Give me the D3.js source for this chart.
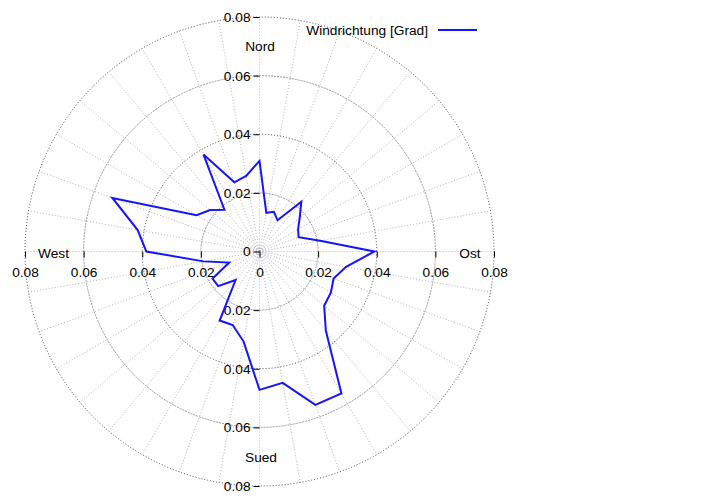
<!DOCTYPE html>
<html>
<head>
<meta charset="utf-8">
<script src="https://cdn.jsdelivr.net/npm/d3@7"></script>
<style>
  body { margin: 0; background: #fff; }
  svg text { font-family: "Liberation Sans", Arial, sans-serif; font-size: 13.7px; fill: #000; }
</style>
</head>
<body>
<div id="chart"></div>
<script>
// wind direction in degrees (compass, clockwise from north)
const directions = [0, 10, 20, 30, 40, 50, 60, 70, 80, 90, 100, 110, 120, 130, 140, 150, 160, 170,
                    180, 190, 200, 210, 220, 230, 240, 250, 260, 270, 280, 290, 300, 310, 320, 330, 340, 350];
// relative frequency per direction
const frequency = [0.0309, 0.0134, 0.0144, 0.0123, 0.0222, 0.0179, 0.0152, 0.0142, 0.0210, 0.0392,
                   0.0300, 0.0269, 0.0281, 0.0288, 0.0352, 0.0559, 0.0557, 0.0455, 0.0472, 0.0312,
                   0.0267, 0.0272, 0.0127, 0.0184, 0.0185, 0.0110, 0.0194, 0.0386, 0.0422, 0.0534,
                   0.0248, 0.0220, 0.0186, 0.0382, 0.0251, 0.0262];
const ringValues = [0.02, 0.04, 0.06, 0.08];
const axisTicks = [-0.08, -0.06, -0.04, -0.02, 0, 0.02, 0.04, 0.06, 0.08];
const compassLabels = ['Nord', 'Ost', 'Sued', 'West'];
const seriesName = 'Windrichtung [Grad]';

const width = 720, height = 504;
const cx = 259.5, cy = 251.5;
const rMax = 234.5;

const svg = d3.select('#chart').append('svg')
    .attr('width', width)
    .attr('height', height);

const g = svg.append('g')
    .attr('transform', `translate(${cx},${cy})`);

const rScale = d3.scaleLinear().domain([0, 0.08]).range([0, rMax]);

// spokes every 10 degrees
const spokeAngles = d3.range(0, 360, 10);
g.selectAll('.spoke')
    .data(spokeAngles)
    .join('line')
    .attr('class', 'spoke')
    .attr('x1', 0).attr('y1', 0)
    .attr('x2', d => rScale(0.08) * Math.sin(d * Math.PI / 180))
    .attr('y2', d => -rScale(0.08) * Math.cos(d * Math.PI / 180))
    .attr('stroke', '#a0a0a8')
    .attr('stroke-width', 0.8)
    .attr('stroke-dasharray', '1,2');

// grid rings
g.selectAll('.ring')
    .data(ringValues)
    .join('circle')
    .attr('class', 'ring')
    .attr('r', d => rScale(d))
    .attr('fill', 'none')
    .attr('stroke', (d, i) => i % 2 ? '#303048' : '#8a8a98')
    .attr('stroke-width', 0.9)
    .attr('stroke-dasharray', (d, i) => i % 2 ? '1,2' : '2,1');

// vertical axis
const yScale = d3.scaleLinear().domain([0.08, -0.08]).range([-rMax, rMax]);
const yAxis = d3.axisLeft(yScale)
    .tickValues(axisTicks)
    .tickSize(6)
    .tickPadding(3)
    .tickFormat(d => String(Math.abs(d)));
g.append('g')
    .call(yAxis)
    .call(a => a.select('.domain').remove())
    .call(a => a.selectAll('text').style('font-size', '13.7px').attr('font-family', null));

// horizontal axis
const xScale = d3.scaleLinear().domain([-0.08, 0.08]).range([-rMax, rMax]);
const xAxis = d3.axisBottom(xScale)
    .tickValues(axisTicks)
    .tickSize(6)
    .tickPadding(10)
    .tickFormat(d => String(Math.abs(d)));
g.append('g')
    .call(xAxis)
    .call(a => a.select('.domain').remove())
    .call(a => a.selectAll('text').style('font-size', '13.7px').attr('font-family', null));

// compass labels
const labelPos = [[0.5, -205.5], [210.5, 1.5], [1.5, 206], [-206, 1.5]];
g.selectAll('.compass')
    .data(compassLabels)
    .join('text')
    .attr('class', 'compass')
    .attr('x', (d, i) => labelPos[i][0])
    .attr('y', (d, i) => labelPos[i][1])
    .attr('dy', '0.35em')
    .attr('text-anchor', 'middle')
    .text(d => d);

// data line
const points = directions.map((d, i) => ({ angle: d, value: frequency[i] }));
const line = d3.lineRadial()
    .angle(d => d.angle * Math.PI / 180)
    .radius(d => rScale(d.value))
    .curve(d3.curveLinearClosed);
g.append('path')
    .datum(points)
    .attr('d', line)
    .attr('fill', 'none')
    .attr('stroke', '#1414ff')
    .attr('stroke-width', 2)
    .attr('stroke-linejoin', 'miter');

// legend
const legend = svg.append('g').attr('transform', 'translate(428,30)');
legend.append('text')
    .attr('x', 0).attr('y', 0)
    .attr('dy', '0.35em')
    .attr('text-anchor', 'end')
    .text(seriesName);
legend.append('line')
    .attr('x1', 10).attr('x2', 49)
    .attr('y1', 0).attr('y2', 0)
    .attr('stroke', '#1414ff')
    .attr('stroke-width', 2);
</script>
</body>
</html>
